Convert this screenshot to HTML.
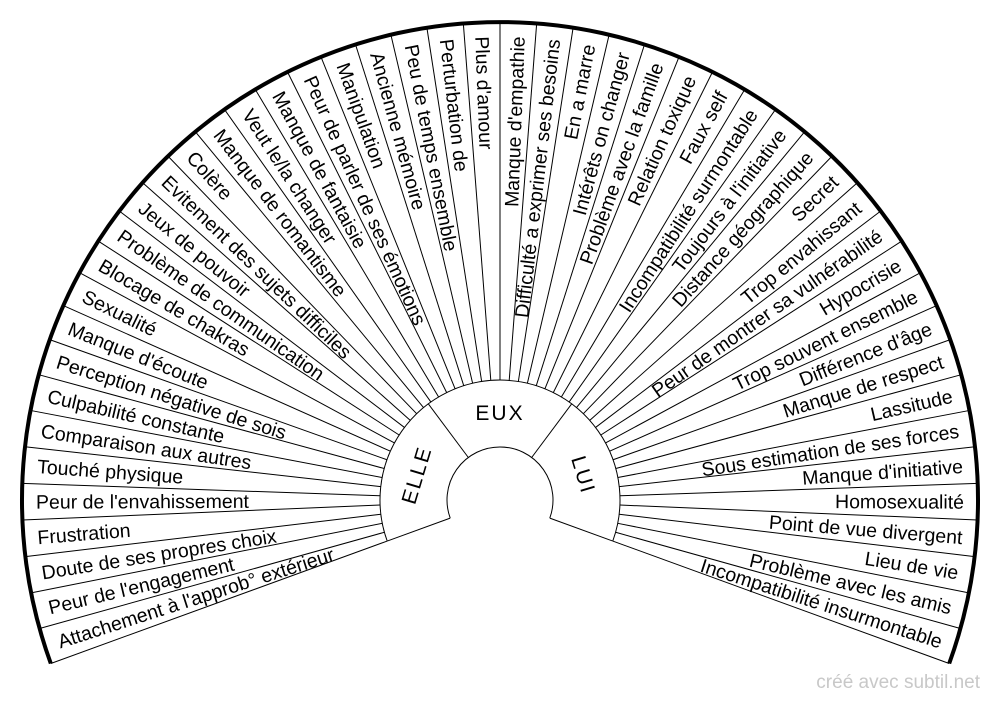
<!DOCTYPE html>
<html><head><meta charset="utf-8"><style>
html,body{margin:0;padding:0;background:#fff;}
svg{display:block;}
text{font-family:"Liberation Sans",sans-serif;font-size:19.5px;fill:#000;}
.l{text-anchor:start;}
.r{text-anchor:end;}
.c{text-anchor:middle;font-size:21px;letter-spacing:2px;}
</style></head><body>
<svg width="1000" height="702" viewBox="0 0 1000 702" xmlns="http://www.w3.org/2000/svg">
<g stroke="#000" stroke-width="1" transform="translate(500 500)">
<line x1="120" x2="478" transform="rotate(-200)"/><line x1="120" x2="478" transform="rotate(-195.6)"/><line x1="120" x2="478" transform="rotate(-191.2)"/><line x1="120" x2="478" transform="rotate(-186.8)"/><line x1="120" x2="478" transform="rotate(-182.4)"/><line x1="120" x2="478" transform="rotate(-178)"/><line x1="120" x2="478" transform="rotate(-173.6)"/><line x1="120" x2="478" transform="rotate(-169.2)"/><line x1="120" x2="478" transform="rotate(-164.8)"/><line x1="120" x2="478" transform="rotate(-160.4)"/><line x1="120" x2="478" transform="rotate(-156)"/><line x1="120" x2="478" transform="rotate(-151.6)"/><line x1="120" x2="478" transform="rotate(-147.2)"/><line x1="120" x2="478" transform="rotate(-142.8)"/><line x1="120" x2="478" transform="rotate(-138.4)"/><line x1="120" x2="478" transform="rotate(-134)"/><line x1="120" x2="478" transform="rotate(-129.6)"/><line x1="120" x2="478" transform="rotate(-125.2)"/><line x1="120" x2="478" transform="rotate(-120.8)"/><line x1="120" x2="478" transform="rotate(-116.4)"/><line x1="120" x2="478" transform="rotate(-112)"/><line x1="120" x2="478" transform="rotate(-107.6)"/><line x1="120" x2="478" transform="rotate(-103.2)"/><line x1="120" x2="478" transform="rotate(-98.8)"/><line x1="120" x2="478" transform="rotate(-94.4)"/><line x1="120" x2="478" transform="rotate(-90)"/><line x1="120" x2="478" transform="rotate(-85.6)"/><line x1="120" x2="478" transform="rotate(-81.2)"/><line x1="120" x2="478" transform="rotate(-76.8)"/><line x1="120" x2="478" transform="rotate(-72.4)"/><line x1="120" x2="478" transform="rotate(-68)"/><line x1="120" x2="478" transform="rotate(-63.6)"/><line x1="120" x2="478" transform="rotate(-59.2)"/><line x1="120" x2="478" transform="rotate(-54.8)"/><line x1="120" x2="478" transform="rotate(-50.4)"/><line x1="120" x2="478" transform="rotate(-46)"/><line x1="120" x2="478" transform="rotate(-41.6)"/><line x1="120" x2="478" transform="rotate(-37.2)"/><line x1="120" x2="478" transform="rotate(-32.8)"/><line x1="120" x2="478" transform="rotate(-28.4)"/><line x1="120" x2="478" transform="rotate(-24)"/><line x1="120" x2="478" transform="rotate(-19.6)"/><line x1="120" x2="478" transform="rotate(-15.2)"/><line x1="120" x2="478" transform="rotate(-10.8)"/><line x1="120" x2="478" transform="rotate(-6.4)"/><line x1="120" x2="478" transform="rotate(-2)"/><line x1="120" x2="478" transform="rotate(2.4)"/><line x1="120" x2="478" transform="rotate(6.8)"/><line x1="120" x2="478" transform="rotate(11.2)"/><line x1="120" x2="478" transform="rotate(15.6)"/><line x1="120" x2="478" transform="rotate(20)"/>
<line x1="53" x2="120" transform="rotate(-200)"/><line x1="53" x2="120" transform="rotate(-126.7)"/><line x1="53" x2="120" transform="rotate(-53.3)"/><line x1="53" x2="120" transform="rotate(20)"/>
</g>
<path d="M387.2 541 A120 120 0 1 1 612.8 541" fill="none" stroke="#000" stroke-width="1"/>
<path d="M450.2 518.1 A53 53 0 1 1 549.8 518.1" fill="none" stroke="#000" stroke-width="1"/>
<path d="M50.8 663.5 A478 478 0 1 1 949.2 663.5" fill="none" stroke="#000" stroke-width="4"/>
<g transform="translate(500 500)">
<text class="l" x="-464" dy="7" transform="rotate(-17.8)">Attachement à l'approb° extérieur</text>
<text class="l" x="-464" dy="7" transform="rotate(-13.4)">Peur de l'engagement</text>
<text class="l" x="-464" dy="7" transform="rotate(-9)">Doute de ses propres choix</text>
<text class="l" x="-464" dy="7" transform="rotate(-4.6)">Frustration</text>
<text class="l" x="-464" dy="7" transform="rotate(-0.2)">Peur de l'envahissement</text>
<text class="l" x="-464" dy="7" transform="rotate(4.2)">Touché physique</text>
<text class="l" x="-464" dy="7" transform="rotate(8.6)">Comparaison aux autres</text>
<text class="l" x="-464" dy="7" transform="rotate(13)">Culpabilité constante</text>
<text class="l" x="-464" dy="7" transform="rotate(17.4)">Perception négative de sois</text>
<text class="l" x="-464" dy="7" transform="rotate(21.8)">Manque d'écoute</text>
<text class="l" x="-464" dy="7" transform="rotate(26.2)">Sexualité</text>
<text class="l" x="-464" dy="7" transform="rotate(30.6)">Blocage de chakras</text>
<text class="l" x="-464" dy="7" transform="rotate(35)">Problème de communication</text>
<text class="l" x="-464" dy="7" transform="rotate(39.4)">Jeux de pouvoir</text>
<text class="l" x="-464" dy="7" transform="rotate(43.8)">Evitement des sujets difficiles</text>
<text class="l" x="-464" dy="7" transform="rotate(48.2)">Colère</text>
<text class="l" x="-464" dy="7" transform="rotate(52.6)">Manque de romantisme</text>
<text class="l" x="-464" dy="7" transform="rotate(57)">Veut le/la changer</text>
<text class="l" x="-464" dy="7" transform="rotate(61.4)">Manque de fantaisie</text>
<text class="l" x="-464" dy="7" transform="rotate(65.8)">Peur de parler de ses émotions</text>
<text class="l" x="-464" dy="7" transform="rotate(70.2)">Manipulation</text>
<text class="l" x="-464" dy="7" transform="rotate(74.6)">Ancienne mémoire</text>
<text class="l" x="-464" dy="7" transform="rotate(79)">Peu de temps ensemble</text>
<text class="l" x="-464" dy="7" transform="rotate(83.4)">Perturbation de</text>
<text class="l" x="-464" dy="7" transform="rotate(87.8)">Plus d'amour</text>
<text class="r" x="464" dy="7" transform="rotate(-87.8)">Manque d'empathie</text>
<text class="r" x="464" dy="7" transform="rotate(-83.4)">Difficulté a exprimer ses besoins</text>
<text class="r" x="464" dy="7" transform="rotate(-79)">En a marre</text>
<text class="r" x="464" dy="7" transform="rotate(-74.6)">Intérêts on changer</text>
<text class="r" x="464" dy="7" transform="rotate(-70.2)">Problème avec la famille</text>
<text class="r" x="464" dy="7" transform="rotate(-65.8)">Relation toxique</text>
<text class="r" x="464" dy="7" transform="rotate(-61.4)">Faux self</text>
<text class="r" x="464" dy="7" transform="rotate(-57)">Incompatibilité surmontable</text>
<text class="r" x="464" dy="7" transform="rotate(-52.6)">Toujours à l'initiative</text>
<text class="r" x="464" dy="7" transform="rotate(-48.2)">Distance géographique</text>
<text class="r" x="464" dy="7" transform="rotate(-43.8)">Secret</text>
<text class="r" x="464" dy="7" transform="rotate(-39.4)">Trop envahissant</text>
<text class="r" x="464" dy="7" transform="rotate(-35)">Peur de montrer sa vulnérabilité</text>
<text class="r" x="464" dy="7" transform="rotate(-30.6)">Hypocrisie</text>
<text class="r" x="464" dy="7" transform="rotate(-26.2)">Trop souvent ensemble</text>
<text class="r" x="464" dy="7" transform="rotate(-21.8)">Différence d'âge</text>
<text class="r" x="464" dy="7" transform="rotate(-17.4)">Manque de respect</text>
<text class="r" x="464" dy="7" transform="rotate(-13)">Lassitude</text>
<text class="r" x="464" dy="7" transform="rotate(-8.6)">Sous estimation de ses forces</text>
<text class="r" x="464" dy="7" transform="rotate(-4.2)">Manque d'initiative</text>
<text class="r" x="464" dy="7" transform="rotate(0.2)">Homosexualité</text>
<text class="r" x="464" dy="7" transform="rotate(4.6)">Point de vue divergent</text>
<text class="r" x="464" dy="7" transform="rotate(9)">Lieu de vie</text>
<text class="r" x="464" dy="7" transform="rotate(13.4)">Problème avec les amis</text>
<text class="r" x="464" dy="7" transform="rotate(17.8)">Incompatibilité insurmontable</text>
</g>
<text class="c" transform="translate(416.7 475) rotate(-73.3)" dy="7">ELLE</text>
<text class="c" transform="translate(500 413) rotate(0)" dy="7">EUX</text>
<text class="c" transform="translate(583.3 475) rotate(73.3)" dy="7">LUI</text>
<text x="980" y="688" style="text-anchor:end;fill:#c8c8c8;font-size:19px;">créé avec subtil.net</text>
</svg>
</body></html>
